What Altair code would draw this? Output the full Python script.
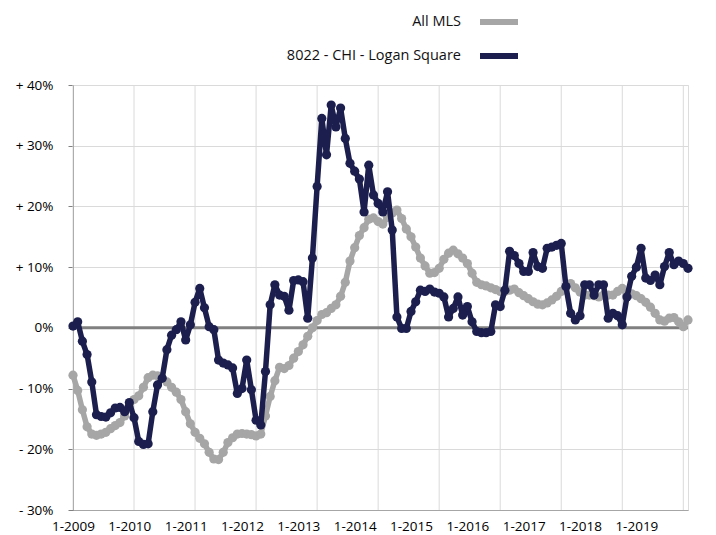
import altair as alt
import pandas as pd

series_names = ["All MLS", "8022 - CHI - Logan Square"]
series_colors = ["#a6a6a6", "#1c1f4e"]

# Monthly year-over-year change (%), 1-2009 .. 12-2019
all_mls = [
    -7.8, -10.3, -13.5, -16.3, -17.5, -17.7, -17.5, -17.2, -16.6, -16.1, -15.6, -14.5,
    -12.9, -11.8, -11.2, -9.8, -8.2, -7.8, -7.9, -8.3, -8.9, -9.8, -10.6, -11.8,
    -13.8, -15.8, -17.2, -18.2, -19.1, -20.5, -21.6, -21.7, -20.5, -18.9, -18.1, -17.5,
    -17.4, -17.5, -17.6, -17.8, -17.5, -14.5, -11.3, -8.7, -6.5, -6.7, -6.2, -5.0,
    -3.9, -2.8, -1.4, 0.0, 1.2, 2.2, 2.5, 3.2, 3.8, 5.2, 7.5, 11.0,
    13.2, 15.2, 16.5, 17.9, 18.1, 17.5, 17.1, 18.2, 18.9, 19.4, 18.0, 16.3,
    15.0, 13.3, 11.5, 10.2, 9.0, 9.1, 9.8, 11.3, 12.3, 12.8, 12.2, 11.5,
    10.6, 9.0, 7.5, 7.1, 6.9, 6.6, 6.3, 6.0, 6.0, 6.2, 6.4, 5.8,
    5.3, 4.8, 4.3, 3.9, 3.8, 4.1, 4.6, 5.2, 6.0, 6.8, 7.3, 6.6,
    5.9, 5.4, 5.4, 5.3, 5.1, 5.4, 5.4, 5.4, 6.0, 6.5, 5.4, 5.6,
    5.3, 4.8, 4.2, 3.4, 2.4, 1.3, 1.1, 1.6, 1.7, 1.0, 0.2, 1.3,
]
logan_square = [
    0.3, 1.0, -2.2, -4.4, -8.9, -14.3, -14.6, -14.7, -14.0, -13.2, -13.1, -13.8,
    -12.3, -14.8, -18.7, -19.2, -19.1, -13.8, -9.4, -8.3, -3.6, -1.2, -0.3, 1.0,
    -2.0, 0.5, 4.2, 6.5, 3.3, 0.2, -0.3, -5.3, -5.8, -6.1, -6.6, -10.8,
    -10.0, -5.3, -10.2, -15.2, -16.0, -7.2, 3.8, 7.1, 5.4, 5.2, 2.9, 7.8,
    7.9, 7.6, 1.6, 11.5, 23.3, 34.5, 28.5, 36.7, 33.1, 36.2, 31.2, 27.1,
    25.8, 24.5, 19.1, 26.8, 21.9, 20.5, 19.1, 22.4, 16.1, 1.8, -0.1, -0.1,
    2.7, 4.3, 6.2, 6.0, 6.4, 5.9, 5.7, 5.1, 1.8, 3.2, 5.1, 2.1,
    3.5, 1.0, -0.6, -0.8, -0.8, -0.6, 3.8, 3.5, 6.2, 12.6, 11.9, 10.6,
    9.3, 9.3, 12.4, 10.1, 9.8, 13.1, 13.3, 13.6, 13.9, 6.8, 2.4, 1.3,
    2.0, 7.1, 7.1, 5.4, 7.1, 7.1, 1.6, 2.4, 2.0, 0.5, 5.1, 8.5,
    10.0, 13.1, 8.2, 7.8, 8.7, 7.1, 10.1, 12.4, 10.4, 11.0, 10.6, 9.8,
]
assert len(all_mls) == 132 and len(logan_square) == 132

label_months = [0, 12, 24, 36, 48, 60, 72, 84, 96, 108, 120]   # 1-2009 .. 1-2019
grid_months = [0, 13, 26, 39, 52, 65, 78, 91, 104, 117, 130]   # vertical gridlines
y_ticks = [-30, -20, -10, 0, 10, 20, 30, 40]
zero_line = [0]

rows = []
for i, (a, b) in enumerate(zip(all_mls, logan_square)):
    rows.append({"m": i, "series": series_names[0], "v": a})
    rows.append({"m": i, "series": series_names[1], "v": b})
df = pd.DataFrame(rows)

FONT = "Open Sans"

x_scale = alt.Scale(domain=[0, 131], nice=False, zero=False)
y_scale = alt.Scale(domain=[-30, 40], nice=False, zero=False)
color_scale = alt.Scale(domain=series_names, range=series_colors)

x_axis = alt.Axis(
    values=label_months,
    labelExpr="'1-' + (2009 + datum.value / 12)",
    grid=False, ticks=False, domain=True, domainColor="#a6a6a6", domainWidth=1,
    labelFont=FONT, labelFontSize=13.5, labelColor="#000000", labelPadding=9,
    labelFlush=False, labelOverlap=False, title=None,
)
y_axis = alt.Axis(
    values=y_ticks,
    labelExpr="datum.value > 0 ? '+ ' + datum.value + '%' : (datum.value < 0 ? '- ' + abs(datum.value) + '%' : '0%')",
    grid=True, gridColor="#dadada", gridWidth=1,
    ticks=True, tickColor="#808080", tickSize=5, domain=True, domainColor="#808080",
    labelFont=FONT, labelFontSize=13.5, labelColor="#000000", labelPadding=15,
    title=None,
)

legend = alt.Legend(
    title=None, orient="none", legendX=404, legendY=-85, direction="vertical",
    symbolType="stroke", symbolStrokeWidth=6, symbolSize=1444,
    labelAlign="right", labelOffset={"expr": "-60"}, labelFont=FONT, labelFontSize=14.5,
    labelColor="#111111", labelLimit=400, rowPadding={"expr": "-7"}, padding=0,
)

X = alt.X("m:Q", scale=x_scale, axis=x_axis)
Y = alt.Y("v:Q", scale=y_scale, axis=y_axis)

vgrid = alt.Chart(pd.DataFrame({"m": grid_months})).mark_rule(
    color="#dadada", strokeWidth=1
).encode(x=X)

zero = alt.Chart(pd.DataFrame({"v": zero_line})).mark_rule(
    color="#808080", strokeWidth=3
).encode(y=Y)

def series_layer(name):
    base = alt.Chart(df).transform_filter(alt.datum.series == name)
    enc = dict(
        x=X, y=Y,
        color=alt.Color("series:N", scale=color_scale, legend=legend, sort=series_names),
    )
    line = base.mark_line(strokeWidth=5.5, strokeJoin="round").encode(**enc)
    pts = base.mark_circle(size=85, opacity=1).encode(**enc)
    return line + pts

chart = alt.layer(
    vgrid,
    zero,
    series_layer(series_names[0]),
    series_layer(series_names[1]),
).properties(
    width=615,
    height=425,
    autosize=alt.AutoSizeParams(type="none"),
    padding={"left": 65, "top": 77, "right": 20, "bottom": 25},
    title=alt.TitleParams(
        "Attached Single-Family", anchor="start", orient="top", offset=82,
        baseline="alphabetic", dx=-60, font=FONT, fontSize=24, fontWeight="normal",
        color="#1c1f4e",
    ),
).configure_view(stroke="#bbbbbb", strokeWidth=1).configure(background="white")

chart.save("out.html", embed_options={"renderer": "svg", "actions": False})
